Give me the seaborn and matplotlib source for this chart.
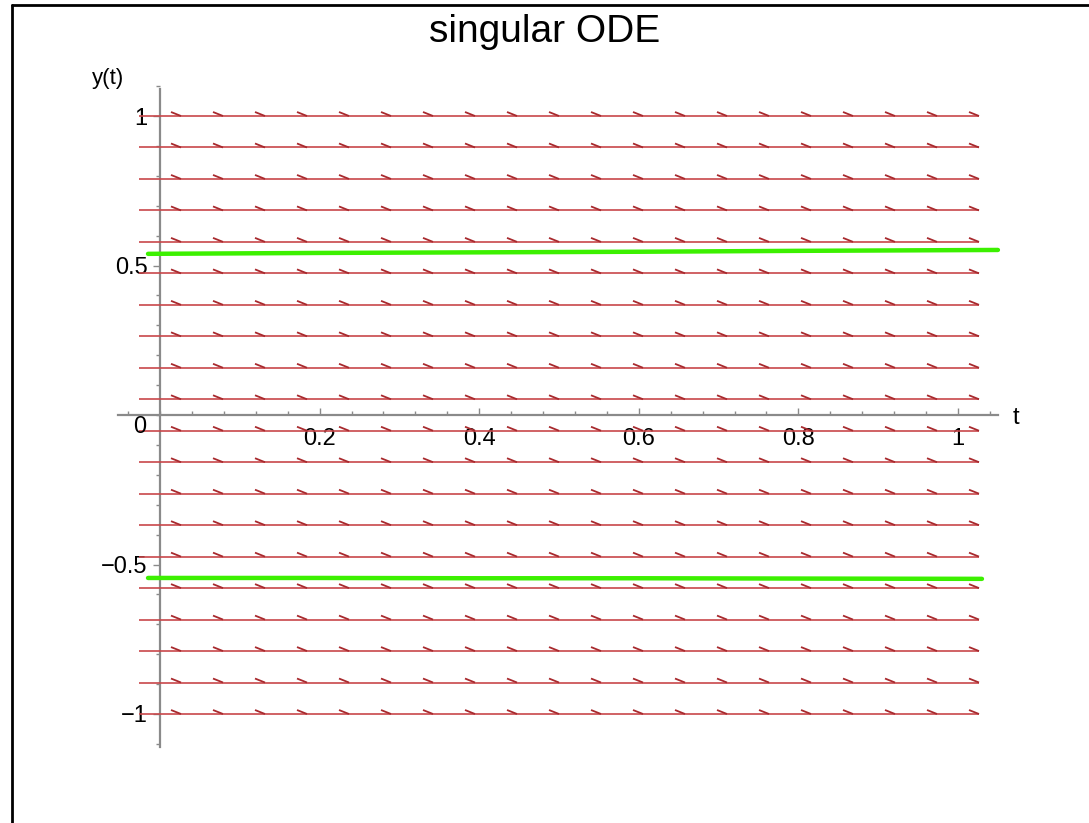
import numpy as np
import seaborn as sns
import matplotlib.pyplot as plt
from matplotlib.collections import LineCollection
from matplotlib.lines import Line2D

# direction field grid (Maple style: 20 x 20 arrows)
t_grid = np.linspace(0, 1, 20)
y_grid = np.linspace(-1, 1, 20)
slope = 0.0  # field is practically flat over this window

# the two solution curves drawn in green
t_upper = [-0.015, 0.2, 0.4, 0.6, 0.8, 1.05]
y_upper = [0.539, 0.542, 0.544, 0.546, 0.549, 0.552]
t_lower = [-0.015, 0.2, 0.4, 0.6, 0.8, 1.03]
y_lower = [-0.545, -0.545, -0.546, -0.546, -0.547, -0.548]

x_ticks = [0.2, 0.4, 0.6, 0.8, 1.0]
x_labels = ['0.2', '0.4', '0.6', '0.8', '1']
y_ticks = [-1, -0.5, 0.5, 1]
y_labels = ['\u22121', '\u22120.5', '0.5', '1']

sns.set_style("white")
plt.rcParams['font.family'] = ['Liberation Sans', 'DejaVu Sans']
plt.rcParams['text.color'] = 'black'
plt.rcParams['xtick.labelcolor'] = 'black'
plt.rcParams['ytick.labelcolor'] = 'black'

W, H = 1089, 823
fig = plt.figure(figsize=(W / 100, H / 100), dpi=100)

# pixel mapping: t=0 -> 160px, t=1 -> 958px ; y=0 -> 415px, y=1 -> 116px
px_t, px_y = 798, 299
xlim = (-0.06, 1.10)
ylim = (-1.15, 1.15)
left = 160 + xlim[0] * px_t
right = 160 + xlim[1] * px_t
top = 415 - ylim[1] * px_y
bottom = 415 - ylim[0] * px_y
ax = fig.add_axes([left / W, (H - bottom) / H, (right - left) / W, (bottom - top) / H])
ax.set_xlim(*xlim)
ax.set_ylim(*ylim)

# direction field arrows: shaft spans one cell, single barb at the tip
h = t_grid[1] - t_grid[0]
shafts = []
barbs = []
bx, by = 10 / px_t, 4 / px_y
for y in y_grid:
    shafts.append([(t_grid[0] - h / 2, y), (t_grid[-1] + h / 2, y)])
    for t in t_grid:
        tip = (t + h / 2, y + slope * h / 2)
        barbs.append([(tip[0] - bx, tip[1] + by), tip])
ax.add_collection(LineCollection(shafts, colors='#c8474a', linewidths=1.2, zorder=2))
ax.add_collection(LineCollection(barbs, colors='#a82a2e', linewidths=1.3, zorder=2))

sns.lineplot(x=t_upper, y=y_upper, color='#3cf000', linewidth=3.2, ax=ax, zorder=3)
sns.lineplot(x=t_lower, y=y_lower, color='#3cf000', linewidth=3.2, ax=ax, zorder=3)

# axes through the origin
for s in ['top', 'right']:
    ax.spines[s].set_visible(False)
ax.spines['left'].set_position(('data', 0))
ax.spines['bottom'].set_position(('data', 0))
ax.spines['left'].set_bounds(-1.11, 1.09)
ax.spines['bottom'].set_bounds(-0.053, 1.05)
for s in ['left', 'bottom']:
    ax.spines[s].set_color('#8a8a8a')
    ax.spines[s].set_linewidth(1.6)
    ax.spines[s].set_zorder(1)

ax.set_xticks(x_ticks)
ax.set_xticklabels(x_labels)
ax.set_xticks(np.arange(-0.04, 1.05, 0.04), minor=True)
ax.set_yticks(y_ticks)
ax.set_yticklabels(y_labels)
ax.set_yticks(np.arange(-1.1, 1.11, 0.1), minor=True)
ax.tick_params(which='both', bottom=True, left=True)
ax.tick_params(axis='x', which='major', direction='in', length=5, width=1, color='#8a8a8a',
               labelsize=17, pad=9)
ax.tick_params(axis='x', which='minor', direction='in', length=3, width=1, color='#8a8a8a')
ax.tick_params(axis='y', which='major', direction='out', length=5, width=1, color='#8a8a8a',
               labelsize=17, pad=4)
ax.tick_params(axis='y', which='minor', direction='out', length=3, width=1, color='#8a8a8a')

ax.text(-0.025, -0.005, '0', fontsize=17, ha='center', va='top')
ax.text(-0.065, 1.125, 'y(t)', fontsize=16, ha='center', va='center')
ax.text(1.072, -0.01, 't', fontsize=17, ha='center', va='center')

fig.suptitle('singular ODE', fontsize=28, y=1 - 32 / H, va='center')

# frame lines at the left and top edges
fig.add_artist(Line2D([12 / W, 12 / W], [0, 1 - 5 / H], color='black', linewidth=2))
fig.add_artist(Line2D([12 / W, 1], [1 - 5 / H, 1 - 5 / H], color='black', linewidth=2))

fig.savefig('out.png', dpi=100)
